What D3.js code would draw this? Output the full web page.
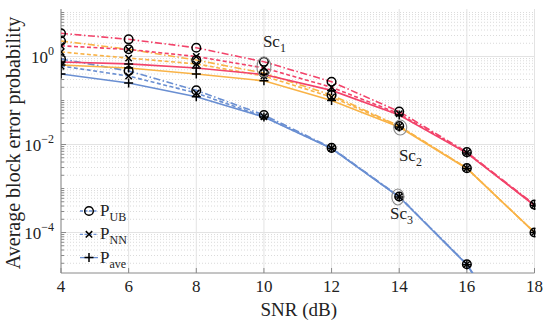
<!DOCTYPE html>
<meta charset="utf-8">
<style>
  body { margin: 0; background: #fff; }
  svg { font-family: "Liberation Serif", "DejaVu Serif", serif; }
  .tick-label { font-size: 17px; fill: #222; }
  .axis-title { font-size: 19px; fill: #222; }
  .series { fill: none; stroke-width: 1.6px; }
  .marker { fill: none; stroke: #000; stroke-width: 1.5px; }
</style>
<body>
<div id="chart"></div>
<script src="https://d3js.org/d3.v7.min.js"></script>
<script>
// SNR values (dB)
const snr = [4, 6, 8, 10, 12, 14, 16, 18];

// Sc1 (pink)
const sc1UB  = [3.37, 2.46, 1.58, 0.76, 0.267, 0.056, 6.7e-3, 4.3e-4];
const sc1NN  = [1.75, 1.45, 1.0, 0.55, 0.20, 0.050, 6.5e-3, 4.2e-4];
const sc1Ave = [0.75, 0.68, 0.55, 0.39, 0.17, 0.047, 6.4e-3, 4.1e-4];
// Sc2 (orange)
const sc2UB  = [2.25, 1.46, 0.83, 0.42, 0.133, 0.0263, 2.9e-3, 1.0e-4];
const sc2NN  = [1.27, 0.92, 0.68, 0.36, 0.12, 0.026, 2.9e-3, 1.0e-4];
const sc2Ave = [0.64, 0.55, 0.40, 0.28, 0.10, 0.025, 2.85e-3, 1.0e-4];
// Sc3 (blue)
const sc3UB  = [0.88, 0.47, 0.17, 0.047, 8.4e-3, 6.6e-4, 1.9e-5, 9e-8];
const sc3NN  = [0.61, 0.36, 0.148, 0.043, 8.2e-3, 6.5e-4, 1.9e-5, 9e-8];
const sc3Ave = [0.40, 0.25, 0.122, 0.042, 8.1e-3, 6.4e-4, 1.85e-5, 8.5e-8];

const xTicks = [4, 6, 8, 10, 12, 14, 16, 18];
const yTickExp = [0, -2, -4];

const colors = { sc1: "#f2436a", sc2: "#f9b347", sc3: "#6a8fd2" };
const dashes = { UB: "7,2.5,1.5,2.5", NN: "4,2.5", ave: null };

const series = [
  { name: "sc3", type: "ave", vals: sc3Ave }, { name: "sc3", type: "NN", vals: sc3NN }, { name: "sc3", type: "UB", vals: sc3UB },
  { name: "sc2", type: "ave", vals: sc2Ave }, { name: "sc2", type: "NN", vals: sc2NN }, { name: "sc2", type: "UB", vals: sc2UB },
  { name: "sc1", type: "ave", vals: sc1Ave }, { name: "sc1", type: "NN", vals: sc1NN }, { name: "sc1", type: "UB", vals: sc1UB }
];

// scenario annotations (ellipse centre + label anchor, in data units)
const notes = [
  { sub: "1", cx: 10, cy: 0.58, rx: 7, ry: 10, lx: 9.97, ly: 1.64 },
  { sub: "2", cx: 14.03, cy: 0.0243, rx: 6.5, ry: 7.5, lx: 13.99, ly: 4.2e-3 },
  { sub: "3", cx: 13.96, cy: 6.4e-4, rx: 6, ry: 8, lx: 13.73, ly: 2.0e-4 }
];

const legendItems = [
  { type: "UB", label: "P", sub: "UB" },
  { type: "NN", label: "P", sub: "NN" },
  { type: "ave", label: "P", sub: "ave" }
];

const W = 550, H = 323;
const margin = { top: 9, right: 15.5, bottom: 50, left: 61 };
const width = W - margin.left - margin.right,
      height = H - margin.top - margin.bottom;

const svg = d3.select("#chart").append("svg")
  .attr("width", W).attr("height", H);

const g = svg.append("g")
  .attr("transform", "translate(" + margin.left + "," + margin.top + ")");

const x = d3.scaleLinear().domain([4, 18]).range([0, width]);
const y = d3.scaleLog().domain([Math.pow(10, -4.92), Math.pow(10, 1.08)]).range([height, 0]);

// minor grid (dotted)
const minorVals = [];
for (let e = -5; e <= 1; e++) {
  for (let m = 1; m <= 9; m++) {
    const v = m * Math.pow(10, e);
    if (v >= y.domain()[0] && v <= y.domain()[1] && !(m === 1 && yTickExp.includes(e))) minorVals.push(v);
  }
}
g.append("g").selectAll("line").data(minorVals).enter().append("line")
  .attr("x1", 0).attr("x2", width)
  .attr("y1", d => y(d)).attr("y2", d => y(d))
  .attr("stroke", "#d0d0d0").attr("stroke-width", 0.8)
  .attr("stroke-dasharray", "1,2");

// major grid
g.append("g").selectAll("line").data(yTickExp).enter().append("line")
  .attr("x1", 0).attr("x2", width)
  .attr("y1", d => y(Math.pow(10, d))).attr("y2", d => y(Math.pow(10, d)))
  .attr("stroke", "#e3e3e3").attr("stroke-width", 1);
g.append("g").selectAll("line").data(xTicks).enter().append("line")
  .attr("x1", d => x(d)).attr("x2", d => x(d))
  .attr("y1", 0).attr("y2", height)
  .attr("stroke", "#e3e3e3").attr("stroke-width", 1);

// axes
const axisColor = "#8a8a8a";
g.append("line").attr("x1", 0).attr("x2", 0).attr("y1", 0).attr("y2", height)
  .attr("stroke", axisColor);
g.append("line").attr("x1", 0).attr("x2", width).attr("y1", height).attr("y2", height)
  .attr("stroke", axisColor);

// y ticks (inside)
g.append("g").selectAll("line").data(minorVals).enter().append("line")
  .attr("x1", 0).attr("x2", 3)
  .attr("y1", d => y(d)).attr("y2", d => y(d))
  .attr("stroke", axisColor);
g.append("g").selectAll("line").data(yTickExp).enter().append("line")
  .attr("x1", 0).attr("x2", 5)
  .attr("y1", d => y(Math.pow(10, d))).attr("y2", d => y(Math.pow(10, d)))
  .attr("stroke", axisColor);
// x ticks (inside)
g.append("g").selectAll("line").data(xTicks).enter().append("line")
  .attr("x1", d => x(d)).attr("x2", d => x(d))
  .attr("y1", height).attr("y2", height - 5)
  .attr("stroke", axisColor);

// tick labels
g.append("g").selectAll("text").data(xTicks).enter().append("text")
  .attr("class", "tick-label")
  .attr("x", d => x(d)).attr("y", height + 19)
  .attr("text-anchor", "middle")
  .text(d => d);

const yl = g.append("g").selectAll("text").data(yTickExp).enter().append("text")
  .attr("class", "tick-label")
  .attr("x", -7).attr("y", d => y(Math.pow(10, d)) + 6)
  .attr("text-anchor", "end");
yl.append("tspan").text("10");
yl.append("tspan").attr("dy", -8).style("font-size", "12px")
  .text(d => d === 0 ? "0" : "\u2212" + (-d));

// axis titles
svg.append("text").attr("class", "axis-title")
  .attr("x", margin.left + width / 2 + 1).attr("y", 316)
  .attr("text-anchor", "middle")
  .text("SNR (dB)");
svg.append("text").attr("class", "axis-title")
  .style("font-size", "20px")
  .attr("transform", "translate(20," + (margin.top + 134) + ") rotate(-90)")
  .attr("text-anchor", "middle")
  .text("Average block error probability");

// curves
svg.append("defs").append("clipPath").attr("id", "plot-clip")
  .append("rect").attr("x", 0).attr("y", 0).attr("width", width + 1).attr("height", height);

const plot = g.append("g").attr("clip-path", "url(#plot-clip)");

const line = d3.line()
  .x((d, i) => x(snr[i]))
  .y(d => y(d));

plot.selectAll("path.series").data(series).enter().append("path")
  .attr("class", "series")
  .attr("d", d => line(d.vals))
  .attr("stroke", d => colors[d.name])
  .attr("stroke-dasharray", d => dashes[d.type]);

function drawMarker(sel, type, cx, cy) {
  if (type === "UB") {
    sel.append("circle").attr("class", "marker").attr("cx", cx).attr("cy", cy).attr("r", 4.3);
  } else if (type === "NN") {
    const s = 3.2;
    sel.append("path").attr("class", "marker")
      .attr("d", "M" + (cx - s) + "," + (cy - s) + "L" + (cx + s) + "," + (cy + s) +
                 "M" + (cx - s) + "," + (cy + s) + "L" + (cx + s) + "," + (cy - s));
  } else {
    const s = 4.5;
    sel.append("path").attr("class", "marker")
      .attr("d", "M" + (cx - s) + "," + cy + "L" + (cx + s) + "," + cy +
                 "M" + cx + "," + (cy - s) + "L" + cx + "," + (cy + s));
  }
}

const markerLayer = plot.append("g");
series.forEach(s => {
  s.vals.forEach((v, i) => drawMarker(markerLayer, s.type, x(snr[i]), y(v)));
});

// annotations
const ann = g.append("g");
notes.forEach(n => {
  ann.append("ellipse")
    .attr("cx", x(n.cx)).attr("cy", y(n.cy))
    .attr("rx", n.rx).attr("ry", n.ry)
    .attr("fill", "none").attr("stroke", "#8c8c8c").attr("stroke-width", 1.1);
  const t = ann.append("text").attr("x", x(n.lx)).attr("y", y(n.ly))
    .style("font-size", "17px").attr("fill", "#222");
  t.append("tspan").text("Sc");
  t.append("tspan").attr("dy", 5).style("font-size", "12px").text(n.sub);
});

// legend
const legend = svg.append("g").attr("transform", "translate(80,211)");
legendItems.forEach((d, i) => {
  const row = legend.append("g").attr("transform", "translate(0," + (i * 23.3) + ")");
  row.append("line").attr("x1", 0).attr("x2", 18).attr("y1", 0).attr("y2", 0)
    .attr("stroke", colors.sc3).attr("stroke-width", 1.3)
    .attr("stroke-dasharray", dashes[d.type] ? "3,1.5" : null);
  drawMarker(row, d.type, 9, 0);
  const t = row.append("text").attr("x", 20).attr("y", 5)
    .style("font-size", "17px").attr("fill", "#222");
  t.append("tspan").text(d.label);
  t.append("tspan").attr("dy", 5).style("font-size", "12px").text(d.sub);
});
</script>
</body>
